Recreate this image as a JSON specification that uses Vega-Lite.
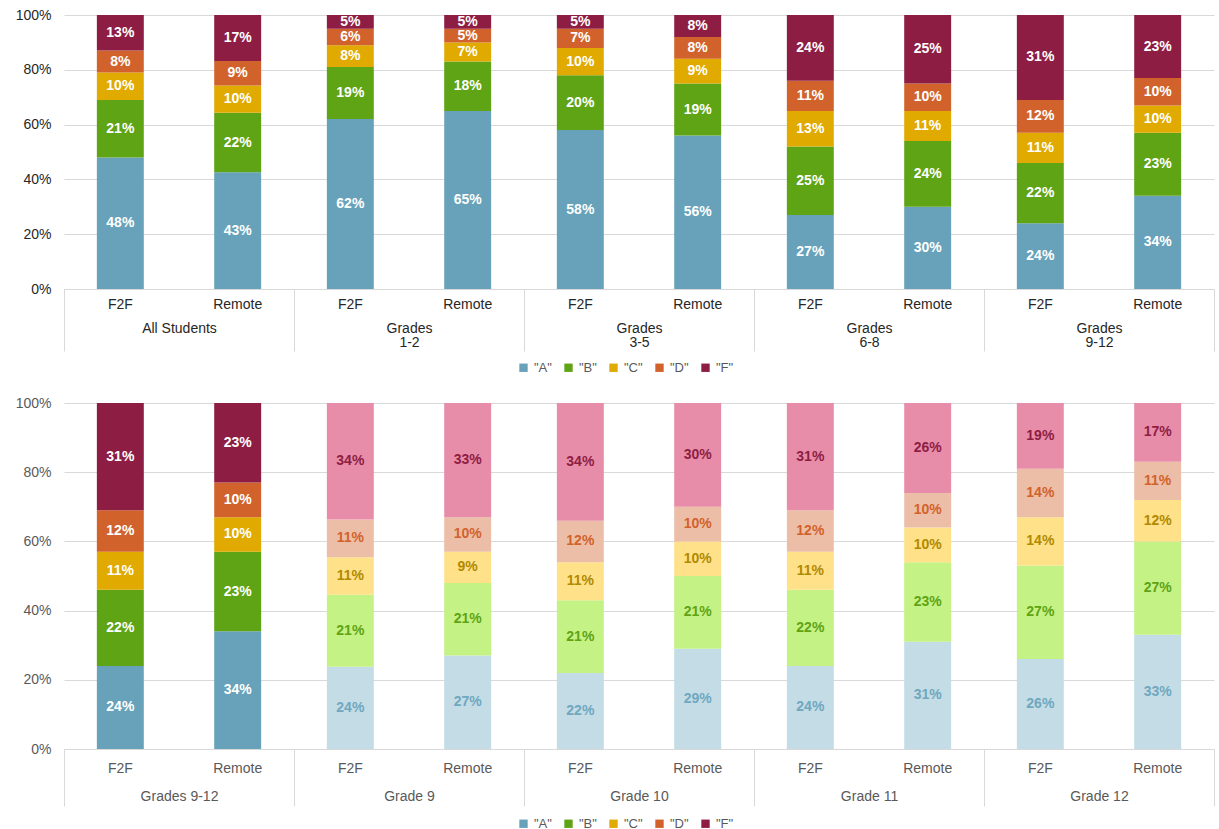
{
  "$schema": "https://vega.github.io/schema/vega-lite/v6.json",
  "background": "white",
  "padding": {"top": 8, "left": 15, "right": 0, "bottom": 0},
  "spacing": 21,
  "config": {
    "font": "Liberation Sans",
    "view": {"stroke": null},
    "axis": {"labelFont": "Liberation Sans", "labelFontSize": 14, "labelColor": "#404040", "title": null},
    "legend": {"title": null, "symbolType": "square", "symbolSize": 70, "symbolStrokeWidth": 0, "labelFontSize": 13, "labelColor": "#595959", "columnPadding": 10}
  },
  "datasets": {
    "top": [
      {"group": "All Students", "mode": "F2F", "grade": "A", "series": "A", "v": 0.48},
      {"group": "All Students", "mode": "F2F", "grade": "B", "series": "B", "v": 0.21},
      {"group": "All Students", "mode": "F2F", "grade": "C", "series": "C", "v": 0.10},
      {"group": "All Students", "mode": "F2F", "grade": "D", "series": "D", "v": 0.08},
      {"group": "All Students", "mode": "F2F", "grade": "F", "series": "F", "v": 0.13},
      {"group": "All Students", "mode": "Remote", "grade": "A", "series": "A", "v": 0.43},
      {"group": "All Students", "mode": "Remote", "grade": "B", "series": "B", "v": 0.22},
      {"group": "All Students", "mode": "Remote", "grade": "C", "series": "C", "v": 0.10},
      {"group": "All Students", "mode": "Remote", "grade": "D", "series": "D", "v": 0.09},
      {"group": "All Students", "mode": "Remote", "grade": "F", "series": "F", "v": 0.17},
      {"group": "Grades|1-2", "mode": "F2F", "grade": "A", "series": "A", "v": 0.62},
      {"group": "Grades|1-2", "mode": "F2F", "grade": "B", "series": "B", "v": 0.19},
      {"group": "Grades|1-2", "mode": "F2F", "grade": "C", "series": "C", "v": 0.08},
      {"group": "Grades|1-2", "mode": "F2F", "grade": "D", "series": "D", "v": 0.06},
      {"group": "Grades|1-2", "mode": "F2F", "grade": "F", "series": "F", "v": 0.05},
      {"group": "Grades|1-2", "mode": "Remote", "grade": "A", "series": "A", "v": 0.65},
      {"group": "Grades|1-2", "mode": "Remote", "grade": "B", "series": "B", "v": 0.18},
      {"group": "Grades|1-2", "mode": "Remote", "grade": "C", "series": "C", "v": 0.07},
      {"group": "Grades|1-2", "mode": "Remote", "grade": "D", "series": "D", "v": 0.05},
      {"group": "Grades|1-2", "mode": "Remote", "grade": "F", "series": "F", "v": 0.05},
      {"group": "Grades|3-5", "mode": "F2F", "grade": "A", "series": "A", "v": 0.58},
      {"group": "Grades|3-5", "mode": "F2F", "grade": "B", "series": "B", "v": 0.20},
      {"group": "Grades|3-5", "mode": "F2F", "grade": "C", "series": "C", "v": 0.10},
      {"group": "Grades|3-5", "mode": "F2F", "grade": "D", "series": "D", "v": 0.07},
      {"group": "Grades|3-5", "mode": "F2F", "grade": "F", "series": "F", "v": 0.05},
      {"group": "Grades|3-5", "mode": "Remote", "grade": "A", "series": "A", "v": 0.56},
      {"group": "Grades|3-5", "mode": "Remote", "grade": "B", "series": "B", "v": 0.19},
      {"group": "Grades|3-5", "mode": "Remote", "grade": "C", "series": "C", "v": 0.09},
      {"group": "Grades|3-5", "mode": "Remote", "grade": "D", "series": "D", "v": 0.08},
      {"group": "Grades|3-5", "mode": "Remote", "grade": "F", "series": "F", "v": 0.08},
      {"group": "Grades|6-8", "mode": "F2F", "grade": "A", "series": "A", "v": 0.27},
      {"group": "Grades|6-8", "mode": "F2F", "grade": "B", "series": "B", "v": 0.25},
      {"group": "Grades|6-8", "mode": "F2F", "grade": "C", "series": "C", "v": 0.13},
      {"group": "Grades|6-8", "mode": "F2F", "grade": "D", "series": "D", "v": 0.11},
      {"group": "Grades|6-8", "mode": "F2F", "grade": "F", "series": "F", "v": 0.24},
      {"group": "Grades|6-8", "mode": "Remote", "grade": "A", "series": "A", "v": 0.30},
      {"group": "Grades|6-8", "mode": "Remote", "grade": "B", "series": "B", "v": 0.24},
      {"group": "Grades|6-8", "mode": "Remote", "grade": "C", "series": "C", "v": 0.11},
      {"group": "Grades|6-8", "mode": "Remote", "grade": "D", "series": "D", "v": 0.10},
      {"group": "Grades|6-8", "mode": "Remote", "grade": "F", "series": "F", "v": 0.25},
      {"group": "Grades|9-12", "mode": "F2F", "grade": "A", "series": "A", "v": 0.24},
      {"group": "Grades|9-12", "mode": "F2F", "grade": "B", "series": "B", "v": 0.22},
      {"group": "Grades|9-12", "mode": "F2F", "grade": "C", "series": "C", "v": 0.11},
      {"group": "Grades|9-12", "mode": "F2F", "grade": "D", "series": "D", "v": 0.12},
      {"group": "Grades|9-12", "mode": "F2F", "grade": "F", "series": "F", "v": 0.31},
      {"group": "Grades|9-12", "mode": "Remote", "grade": "A", "series": "A", "v": 0.34},
      {"group": "Grades|9-12", "mode": "Remote", "grade": "B", "series": "B", "v": 0.23},
      {"group": "Grades|9-12", "mode": "Remote", "grade": "C", "series": "C", "v": 0.10},
      {"group": "Grades|9-12", "mode": "Remote", "grade": "D", "series": "D", "v": 0.10},
      {"group": "Grades|9-12", "mode": "Remote", "grade": "F", "series": "F", "v": 0.23}
    ],
    "bottom": [
      {"group": "Grades 9-12", "mode": "F2F", "grade": "A", "series": "A", "v": 0.24},
      {"group": "Grades 9-12", "mode": "F2F", "grade": "B", "series": "B", "v": 0.22},
      {"group": "Grades 9-12", "mode": "F2F", "grade": "C", "series": "C", "v": 0.11},
      {"group": "Grades 9-12", "mode": "F2F", "grade": "D", "series": "D", "v": 0.12},
      {"group": "Grades 9-12", "mode": "F2F", "grade": "F", "series": "F", "v": 0.31},
      {"group": "Grades 9-12", "mode": "Remote", "grade": "A", "series": "A", "v": 0.34},
      {"group": "Grades 9-12", "mode": "Remote", "grade": "B", "series": "B", "v": 0.23},
      {"group": "Grades 9-12", "mode": "Remote", "grade": "C", "series": "C", "v": 0.10},
      {"group": "Grades 9-12", "mode": "Remote", "grade": "D", "series": "D", "v": 0.10},
      {"group": "Grades 9-12", "mode": "Remote", "grade": "F", "series": "F", "v": 0.23},
      {"group": "Grade 9", "mode": "F2F", "grade": "A", "series": "A single grade", "v": 0.24},
      {"group": "Grade 9", "mode": "F2F", "grade": "B", "series": "B single grade", "v": 0.21},
      {"group": "Grade 9", "mode": "F2F", "grade": "C", "series": "C single grade", "v": 0.11},
      {"group": "Grade 9", "mode": "F2F", "grade": "D", "series": "D single grade", "v": 0.11},
      {"group": "Grade 9", "mode": "F2F", "grade": "F", "series": "F single grade", "v": 0.34},
      {"group": "Grade 9", "mode": "Remote", "grade": "A", "series": "A single grade", "v": 0.27},
      {"group": "Grade 9", "mode": "Remote", "grade": "B", "series": "B single grade", "v": 0.21},
      {"group": "Grade 9", "mode": "Remote", "grade": "C", "series": "C single grade", "v": 0.09},
      {"group": "Grade 9", "mode": "Remote", "grade": "D", "series": "D single grade", "v": 0.10},
      {"group": "Grade 9", "mode": "Remote", "grade": "F", "series": "F single grade", "v": 0.33},
      {"group": "Grade 10", "mode": "F2F", "grade": "A", "series": "A single grade", "v": 0.22},
      {"group": "Grade 10", "mode": "F2F", "grade": "B", "series": "B single grade", "v": 0.21},
      {"group": "Grade 10", "mode": "F2F", "grade": "C", "series": "C single grade", "v": 0.11},
      {"group": "Grade 10", "mode": "F2F", "grade": "D", "series": "D single grade", "v": 0.12},
      {"group": "Grade 10", "mode": "F2F", "grade": "F", "series": "F single grade", "v": 0.34},
      {"group": "Grade 10", "mode": "Remote", "grade": "A", "series": "A single grade", "v": 0.29},
      {"group": "Grade 10", "mode": "Remote", "grade": "B", "series": "B single grade", "v": 0.21},
      {"group": "Grade 10", "mode": "Remote", "grade": "C", "series": "C single grade", "v": 0.10},
      {"group": "Grade 10", "mode": "Remote", "grade": "D", "series": "D single grade", "v": 0.10},
      {"group": "Grade 10", "mode": "Remote", "grade": "F", "series": "F single grade", "v": 0.30},
      {"group": "Grade 11", "mode": "F2F", "grade": "A", "series": "A single grade", "v": 0.24},
      {"group": "Grade 11", "mode": "F2F", "grade": "B", "series": "B single grade", "v": 0.22},
      {"group": "Grade 11", "mode": "F2F", "grade": "C", "series": "C single grade", "v": 0.11},
      {"group": "Grade 11", "mode": "F2F", "grade": "D", "series": "D single grade", "v": 0.12},
      {"group": "Grade 11", "mode": "F2F", "grade": "F", "series": "F single grade", "v": 0.31},
      {"group": "Grade 11", "mode": "Remote", "grade": "A", "series": "A single grade", "v": 0.31},
      {"group": "Grade 11", "mode": "Remote", "grade": "B", "series": "B single grade", "v": 0.23},
      {"group": "Grade 11", "mode": "Remote", "grade": "C", "series": "C single grade", "v": 0.10},
      {"group": "Grade 11", "mode": "Remote", "grade": "D", "series": "D single grade", "v": 0.10},
      {"group": "Grade 11", "mode": "Remote", "grade": "F", "series": "F single grade", "v": 0.26},
      {"group": "Grade 12", "mode": "F2F", "grade": "A", "series": "A single grade", "v": 0.26},
      {"group": "Grade 12", "mode": "F2F", "grade": "B", "series": "B single grade", "v": 0.27},
      {"group": "Grade 12", "mode": "F2F", "grade": "C", "series": "C single grade", "v": 0.14},
      {"group": "Grade 12", "mode": "F2F", "grade": "D", "series": "D single grade", "v": 0.14},
      {"group": "Grade 12", "mode": "F2F", "grade": "F", "series": "F single grade", "v": 0.19},
      {"group": "Grade 12", "mode": "Remote", "grade": "A", "series": "A single grade", "v": 0.33},
      {"group": "Grade 12", "mode": "Remote", "grade": "B", "series": "B single grade", "v": 0.27},
      {"group": "Grade 12", "mode": "Remote", "grade": "C", "series": "C single grade", "v": 0.12},
      {"group": "Grade 12", "mode": "Remote", "grade": "D", "series": "D single grade", "v": 0.11},
      {"group": "Grade 12", "mode": "Remote", "grade": "F", "series": "F single grade", "v": 0.17}
    ]
  },
  "vconcat": [
    {
      "width": 1150,
      "height": 274,
      "data": {"name": "top"},
      "transform": [
        {"stack": "v", "groupby": ["group", "mode"], "sort": [{"field": "grade", "order": "ascending"}], "as": ["y0", "y1"], "offset": "normalize"},
        {"calculate": "(datum.y0 + datum.y1) / 2", "as": "ymid"}
      ],
      "encoding": {
        "x": {"field": "group", "type": "nominal", "sort": null,
          "scale": {"paddingInner": 0, "paddingOuter": 0},
          "axis": {"labelAngle": 0, "tickBand": "extent", "tickSize": 62, "tickColor": "#d9d9d9", "domainColor": "#d9d9d9", "labelPadding": -30, "labelBaseline": "top", "labelLineHeight": 14, "labelColor": "#262626", "labelExpr": "split(datum.label, '|')"}},
        "xOffset": {"field": "mode", "type": "nominal", "sort": ["F2F", "Remote"], "scale": {"paddingInner": 0.6, "paddingOuter": 0.28}}
      },
      "layer": [
        {
          "mark": {"type": "bar"},
          "encoding": {
            "y": {"field": "y0", "type": "quantitative", "scale": {"domain": [0, 1]},
              "axis": {"format": ".0%", "values": [0, 0.2, 0.4, 0.6, 0.8, 1], "domain": false, "ticks": false, "gridColor": "#d9d9d9", "labelPadding": 13, "labelColor": "#262626"}},
            "y2": {"field": "y1"},
            "color": {"field": "series", "type": "nominal",
              "scale": {"domain": ["A", "B", "C", "D", "F"], "range": ["#67A2BA", "#5EA414", "#E0AA00", "#D2622B", "#8E1D44"]},
              "legend": {"values": ["A", "B", "C", "D", "F"], "orient": "none", "direction": "horizontal", "legendX": 453, "legendY": 346, "labelExpr": "'\"' + datum.label + '\"'"}}
          }
        },
        {
          "mark": {"type": "text", "fontWeight": "bold", "fontSize": 14, "color": "white", "baseline": "middle"},
          "encoding": {
            "y": {"field": "ymid", "type": "quantitative"},
            "text": {"field": "v", "type": "quantitative", "format": ".0%"}
          }
        },
        {
          "transform": [{"filter": "datum.grade == 'A'"}],
          "mark": {"type": "text", "fontSize": 14, "dy": 16, "baseline": "middle", "color": "#262626"},
          "encoding": {
            "y": {"datum": 0, "type": "quantitative"},
            "text": {"field": "mode"}
          }
        }
      ],
      "resolve": {"scale": {"color": "independent"}}
    },
    {
      "width": 1150,
      "height": 346,
      "data": {"name": "bottom"},
      "transform": [
        {"stack": "v", "groupby": ["group", "mode"], "sort": [{"field": "grade", "order": "ascending"}], "as": ["y0", "y1"], "offset": "normalize"},
        {"calculate": "(datum.y0 + datum.y1) / 2", "as": "ymid"}
      ],
      "encoding": {
        "x": {"field": "group", "type": "nominal", "sort": null,
          "scale": {"paddingInner": 0, "paddingOuter": 0},
          "axis": {"labelAngle": 0, "tickBand": "extent", "tickSize": 57, "tickColor": "#d9d9d9", "domainColor": "#d9d9d9", "labelPadding": -17, "labelBaseline": "top", "labelColor": "#595959"}},
        "xOffset": {"field": "mode", "type": "nominal", "sort": ["F2F", "Remote"], "scale": {"paddingInner": 0.6, "paddingOuter": 0.28}}
      },
      "layer": [
        {
          "mark": {"type": "bar"},
          "encoding": {
            "y": {"field": "y0", "type": "quantitative", "scale": {"domain": [0, 1]},
              "axis": {"format": ".0%", "values": [0, 0.2, 0.4, 0.6, 0.8, 1], "domain": false, "ticks": false, "gridColor": "#d9d9d9", "labelPadding": 13, "labelColor": "#595959"}},
            "y2": {"field": "y1"},
            "color": {"field": "series", "type": "nominal",
              "scale": {"domain": ["A", "B", "C", "D", "F", "A single grade", "B single grade", "C single grade", "D single grade", "F single grade"],
                "range": ["#67A2BA", "#5EA414", "#E0AA00", "#D2622B", "#8E1D44", "#C3DCE5", "#C5F285", "#FFE18A", "#EDBEA7", "#E88DA9"]},
              "legend": {"values": ["A", "B", "C", "D", "F"], "orient": "none", "direction": "horizontal", "legendX": 453, "legendY": 414, "labelExpr": "'\"' + datum.label + '\"'"}}
          }
        },
        {
          "mark": {"type": "text", "fontWeight": "bold", "fontSize": 14, "baseline": "middle"},
          "encoding": {
            "y": {"field": "ymid", "type": "quantitative"},
            "text": {"field": "v", "type": "quantitative", "format": ".0%"},
            "color": {"field": "series", "type": "nominal",
              "scale": {"domain": ["A", "B", "C", "D", "F", "A single grade", "B single grade", "C single grade", "D single grade", "F single grade"],
                "range": ["#ffffff", "#ffffff", "#ffffff", "#ffffff", "#ffffff", "#6FA8C0", "#5EA414", "#B08A00", "#D2622B", "#8E1D44"]},
              "legend": null}
          }
        },
        {
          "transform": [{"filter": "datum.grade == 'A'"}],
          "mark": {"type": "text", "fontSize": 14, "dy": 20, "baseline": "middle", "color": "#595959"},
          "encoding": {
            "y": {"datum": 0, "type": "quantitative"},
            "text": {"field": "mode"}
          }
        }
      ],
      "resolve": {"scale": {"color": "independent"}}
    }
  ]
}
